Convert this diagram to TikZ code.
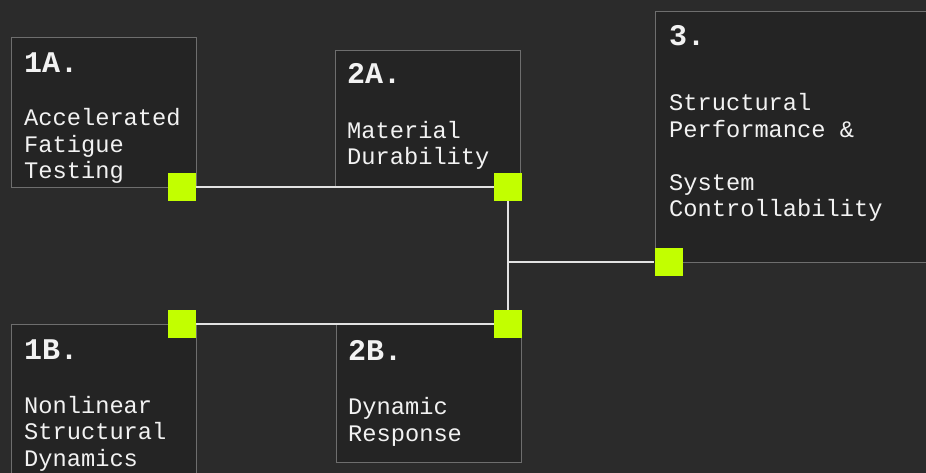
\documentclass[tikz,border=0pt]{standalone}
\usepackage{fontspec}
\setmonofont{Liberation Mono}
\begin{document}
\begin{tikzpicture}[x=1pt,y=-1pt,
  card/.style={draw=boxline, fill=boxfill, line width=1.2pt, rectangle, inner sep=0pt, anchor=north west},
  ttl/.style={anchor=base west, inner sep=0pt, text=txt, font=\fontsize{30}{30}\selectfont\ttfamily\bfseries},
  body/.style={anchor=base west, inner sep=0pt, text=txt, align=left, font=\fontsize{23.7}{26.5}\selectfont\ttfamily},
  port/.style={fill=lime, draw=none, minimum size=28pt, inner sep=0pt, rectangle},
  wire/.style={draw=wirec, line width=2pt}]
\definecolor{bg}{HTML}{2B2B2B}
\definecolor{boxfill}{HTML}{242424}
\definecolor{boxline}{HTML}{6E6E6E}
\definecolor{lime}{HTML}{C2FF00}
\definecolor{wirec}{HTML}{E2E2E2}
\definecolor{txt}{HTML}{F2F2F2}
\useasboundingbox (0,0) rectangle (926,473);
\fill[bg] (0,0) rectangle (926,473);
\clip (0,0) rectangle (926,473);
% cards
\node[card, minimum width=185pt, minimum height=150pt] (b1a) at (11,37) {};
\node[card, minimum width=185pt, minimum height=137pt] (b2a) at (335,50) {};
\node[card, minimum width=290pt, minimum height=251pt] (b3) at (655,11) {};
\node[card, minimum width=185pt, minimum height=170pt] (b1b) at (11,324) {};
\node[card, minimum width=185pt, minimum height=138pt] (b2b) at (336,324) {};
% texts (body anchored at the baseline of its last line)
\node[ttl] (t1a) at (24,73) {1A.};
\node[body] (d1a) at (24,179) {Accelerated\\Fatigue\\Testing};
\node[ttl] (t2a) at (347,84) {2A.};
\node[body] (d2a) at (347,165) {Material\\Durability};
\node[ttl] (t3) at (669,46) {3.};
\node[body] (d3) at (669,217) {Structural\\Performance \&\\[26.5pt]System\\Controllability};
\node[ttl] (t1b) at (24,359) {1B.};
\node[body] (d1b) at (24,466) {Nonlinear\\Structural\\Dynamics};
\node[ttl] (t2b) at (348,360) {2B.};
\node[body] (d2b) at (348,441) {Dynamic\\Response};
% ports
\node[port] (p1a) at (182,187) {};
\node[port] (p2a) at (508,187) {};
\node[port] (p1b) at (182,324) {};
\node[port] (p2b) at (508,324) {};
\node[port] (p3) at (668.5,262) {};
\coordinate (j) at (508,262);
% wires
\draw[wire] (p1a.east) -- (p2a.west);
\draw[wire] (p1b.east) -- (p2b.west);
\draw[wire] (p2a.south) -- (p2b.north);
\draw[wire] (j) -- (p3.west);
\end{tikzpicture}
\end{document}
